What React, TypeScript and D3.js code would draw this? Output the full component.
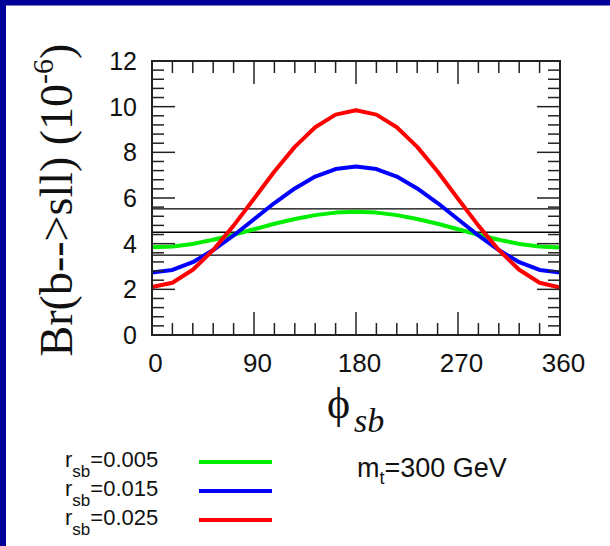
import React from "react";
import * as d3 from "d3";

const phiDeg = [0, 18, 36, 54, 72, 90, 108, 126, 144, 162, 180, 198, 216, 234, 252, 270, 288, 306, 324, 342, 360];
const rsb005 = [3.84, 3.88, 3.99, 4.17, 4.39, 4.63, 4.87, 5.08, 5.25, 5.36, 5.4, 5.36, 5.25, 5.08, 4.87, 4.63, 4.39, 4.17, 3.99, 3.88, 3.83];
const rsb015 = [2.74, 2.85, 3.19, 3.72, 4.36, 5.07, 5.78, 6.42, 6.94, 7.27, 7.38, 7.27, 6.94, 6.42, 5.78, 5.07, 4.36, 3.72, 3.19, 2.85, 2.74];
const rsb025 = [2.1, 2.29, 2.86, 3.72, 4.79, 5.97, 7.16, 8.24, 9.1, 9.65, 9.84, 9.65, 9.1, 8.24, 7.16, 5.97, 4.79, 3.72, 2.86, 2.29, 2.08];
const refLines = [3.5, 4.5, 5.52];
const xTickLabels = [0, 90, 180, 270, 360];
const yTickLabels = [0, 2, 4, 6, 8, 10, 12];
const legendValues = ["0.005", "0.015", "0.025"];
const seriesColors = ["#00ee00", "#0000ff", "#ff0000"];

export default function App() {
  const x = d3.scaleLinear().domain([0, 360]).range([152, 560]);
  const y = d3.scaleLinear().domain([0, 12]).range([335, 61]);
  const line = d3
    .line<number>()
    .x((_, i) => x(phiDeg[i]))
    .y((d) => y(d));
  const series = [rsb005, rsb015, rsb025];

  const xMinor = d3.range(0, 361, 18);
  const yMinor = d3.range(0, 12.001, 0.4);

  const tickColor = "#222";
  return (
    <svg
      width={610}
      height={546}
      style={{ position: "absolute", left: 0, top: 0 }}
    >
      <rect x={0} y={0} width={610} height={546} fill="#000099" />
      <rect x={6} y={5.5} width={604} height={541} fill="#ffffff" />

      {refLines.map((v) => (
        <line key={v} x1={x(0)} x2={x(360)} y1={y(v)} y2={y(v)} stroke="#000" strokeWidth={1.3} />
      ))}

      {series.map((s, i) => (
        <path key={i} d={line(s) || ""} fill="none" stroke={seriesColors[i]} strokeWidth={4} strokeLinejoin="round" />
      ))}

      {xMinor.map((t) => {
        const major = t % 90 === 0;
        const len = major ? 23 : 12;
        return (
          <g key={"x" + t}>
            <line x1={x(t)} x2={x(t)} y1={y(12)} y2={y(12) + len} stroke={tickColor} strokeWidth={1.5} />
            <line x1={x(t)} x2={x(t)} y1={y(0)} y2={y(0) - len} stroke={tickColor} strokeWidth={1.5} />
          </g>
        );
      })}
      {yMinor.map((t, i) => {
        const major = i % 5 === 0;
        const len = major ? 23 : 12;
        return (
          <g key={"y" + i}>
            <line x1={x(0)} x2={x(0) + len} y1={y(t)} y2={y(t)} stroke={tickColor} strokeWidth={1.5} />
            <line x1={x(360)} x2={x(360) - len} y1={y(t)} y2={y(t)} stroke={tickColor} strokeWidth={1.5} />
          </g>
        );
      })}

      <rect x={x(0)} y={y(12)} width={x(360) - x(0)} height={y(0) - y(12)} fill="none" stroke={tickColor} strokeWidth={2} />

      {yTickLabels.map((t) => (
        <text
          key={"yl" + t}
          x={137}
          y={y(t) + 9}
          textAnchor="end"
          fontFamily="Liberation Sans, Arial, sans-serif"
          fontSize={25}
          fill="#111"
        >
          {t}
        </text>
      ))}
      {xTickLabels.map((t) => (
        <text
          key={"xl" + t}
          x={x(t) + 3.5}
          y={372}
          textAnchor="middle"
          fontFamily="Liberation Sans, Arial, sans-serif"
          fontSize={26}
          fill="#111"
        >
          {t}
        </text>
      ))}

      <text
        transform="translate(72,200) rotate(-90)"
        textAnchor="middle"
        fontFamily="Liberation Serif, Times New Roman, serif"
        fontSize={46}
        fill="#111"
      >
        Br(b--&gt;sll) (10
        <tspan fontSize={30} dy={-19}>-6</tspan>
        <tspan dy={19}>)</tspan>
      </text>

      <text x={327} y={418} fontFamily="Liberation Serif, DejaVu Serif, serif" fontSize={44} fill="#111">
        ϕ
      </text>
      <text x={354} y={432} fontFamily="Liberation Serif, Times New Roman, serif" fontStyle="italic" fontSize={34} fill="#111">
        sb
      </text>

      {legendValues.map((v, i) => {
        const base = 467 + i * 29;
        return (
          <g key={"lg" + v}>
            <text x={65} y={base} fontFamily="Liberation Sans, Arial, sans-serif" fontSize={22} fill="#111">
              r
              <tspan fontSize={17} dy={10}>sb</tspan>
              <tspan dy={-10}>={v}</tspan>
            </text>
            <line x1={199} x2={272} y1={base - 5} y2={base - 5} stroke={seriesColors[i]} strokeWidth={4} />
          </g>
        );
      })}
      <text x={357} y={477} fontFamily="Liberation Sans, Arial, sans-serif" fontSize={27} fill="#111">
        m
        <tspan fontSize={18} dy={7}>t</tspan>
        <tspan dy={-7}>=300 GeV</tspan>
      </text>
    </svg>
  );
}
